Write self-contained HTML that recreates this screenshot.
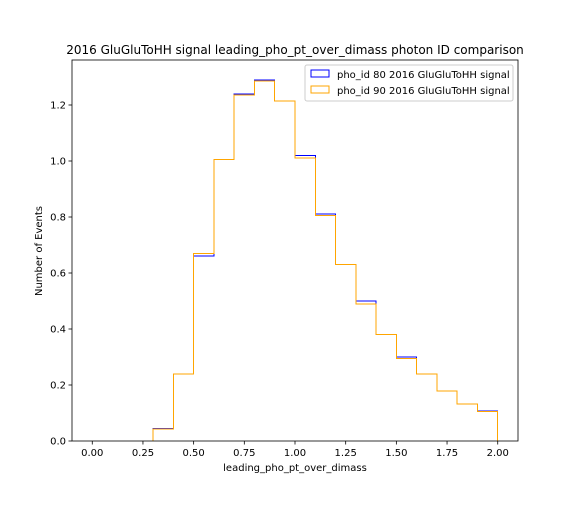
<!DOCTYPE html>
<html><head><meta charset="utf-8"><style>
body{margin:0;background:#fff;}
svg{font-family:"DejaVu Sans","Liberation Sans",sans-serif;}
</style></head><body>
<svg id="chart" width="576" height="504" xmlns="http://www.w3.org/2000/svg">
<rect width="576" height="504" fill="#fff"/>
<text x="295" y="54" text-anchor="middle" font-size="12">2016 GluGluToHH signal leading_pho_pt_over_dimass photon ID comparison</text>
<g id="marks"></g>
<rect x="72" y="60" width="446" height="381" fill="none" stroke="#000" stroke-width="0.8"/>
<g id="ticks"></g>
<text x="295" y="471" text-anchor="middle" font-size="10">leading_pho_pt_over_dimass</text>
<text transform="translate(42,251) rotate(-90)" text-anchor="middle" font-size="10">Number of Events</text>
<g>
<rect x="305" y="65" width="208" height="36" fill="#fff" stroke="#ccc" rx="2"/>
<rect x="311" y="70" width="18" height="7" fill="none" stroke="blue"/>
<text x="337" y="78" font-size="10">pho_id 80 2016 GluGluToHH signal</text>
<rect x="311" y="86" width="18" height="7" fill="none" stroke="orange"/>
<text x="337" y="94" font-size="10">pho_id 90 2016 GluGluToHH signal</text>
</g>
</svg>
<script>
const binEdges=[0.3,0.4,0.5,0.6,0.7,0.8,0.9,1.0,1.1,1.2,1.3,1.4,1.5,1.6,1.7,1.8,1.9,2.0];
const pho80=[0.045,0.24,0.66,1.005,1.24,1.29,1.215,1.02,0.81,0.63,0.50,0.38,0.30,0.24,0.178,0.133,0.108];
const pho90=[0.043,0.24,0.67,1.005,1.235,1.285,1.215,1.01,0.805,0.63,0.49,0.38,0.295,0.24,0.178,0.133,0.105];
const xTicks=[0,0.25,0.5,0.75,1.0,1.25,1.5,1.75,2.0];
const yTicks=[0,0.2,0.4,0.6,0.8,1.0,1.2];
const NS="http://www.w3.org/2000/svg";
function X(v){return 72+(v+0.1)/2.2*446;}
function Y(v){return 441-v*280;}
function stepPath(vals){
  let d="M"+X(binEdges[0])+","+Y(0);
  for(let i=0;i<vals.length;i++){d+=" L"+X(binEdges[i])+","+Y(vals[i])+" L"+X(binEdges[i+1])+","+Y(vals[i]);}
  d+=" L"+X(binEdges[binEdges.length-1])+","+Y(0);
  return d;
}
const marks=document.getElementById("marks");
const p1=document.createElementNS(NS,"path");


p1.setAttribute("d",stepPath(pho80));p1.setAttribute("fill","none");p1.setAttribute("stroke","blue");p1.setAttribute("stroke-width","1");p1.setAttribute("shape-rendering","crispEdges");
marks.appendChild(p1);
const p2=document.createElementNS(NS,"path");


p2.setAttribute("d",stepPath(pho90));p2.setAttribute("fill","none");p2.setAttribute("stroke","orange");p2.setAttribute("stroke-width","1");p2.setAttribute("shape-rendering","crispEdges");
marks.appendChild(p2);
const tg=document.getElementById("ticks");
xTicks.forEach(v=>{
  const l=document.createElementNS(NS,"line");
  
  
  l.setAttribute("x1",X(v));l.setAttribute("x2",X(v));l.setAttribute("y1",441);l.setAttribute("y2",444.5);l.setAttribute("stroke","#000");l.setAttribute("stroke-width","0.8");
  tg.appendChild(l);
  const t=document.createElementNS(NS,"text");
  
  
  t.setAttribute("x",X(v));t.setAttribute("y",456);t.setAttribute("text-anchor","middle");t.setAttribute("font-size","10");
  t.textContent=v.toFixed(2);tg.appendChild(t);
});
yTicks.forEach(v=>{
  const l=document.createElementNS(NS,"line");
  
  
  l.setAttribute("x1",68.5);l.setAttribute("x2",72);l.setAttribute("y1",Y(v));l.setAttribute("y2",Y(v));l.setAttribute("stroke","#000");l.setAttribute("stroke-width","0.8");
  tg.appendChild(l);
  const t=document.createElementNS(NS,"text");
  
  
  t.setAttribute("x",66);t.setAttribute("y",Y(v)+3.5);t.setAttribute("text-anchor","end");t.setAttribute("font-size","10");
  t.textContent=v.toFixed(1);tg.appendChild(t);
});
</script>
</body></html>
